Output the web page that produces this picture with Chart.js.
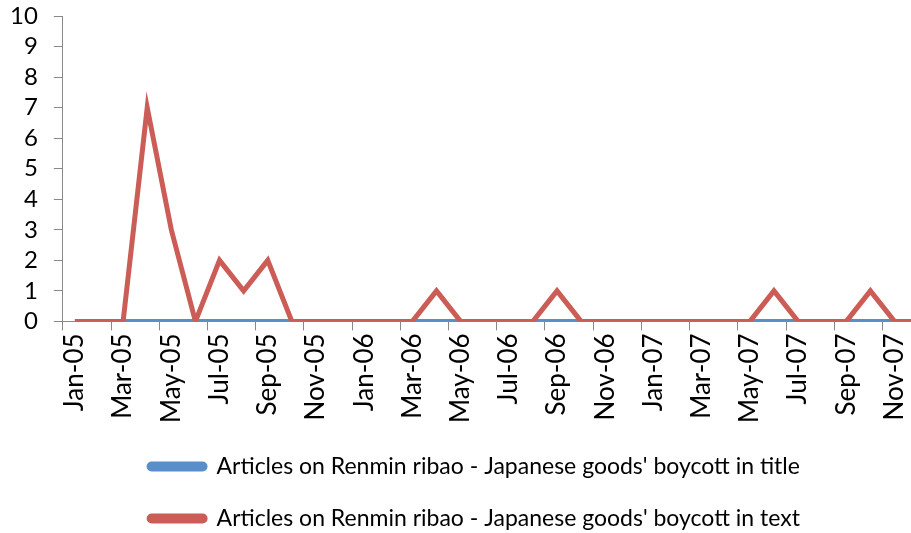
<!DOCTYPE html>
<html>
<head>
<meta charset="utf-8">
<script src="https://cdn.jsdelivr.net/npm/chart.js@4/dist/chart.umd.min.js"></script>
<style>
  html, body { margin: 0; padding: 0; background: #fff; overflow: hidden; }
  #wrap { width: 953px; height: 533px; }
</style>
</head>
<body>
<div id="wrap"><canvas id="c"></canvas></div>
<script>
const months = [
  "Jan-05","Feb-05","Mar-05","Apr-05","May-05","Jun-05","Jul-05","Aug-05","Sep-05","Oct-05","Nov-05","Dec-05",
  "Jan-06","Feb-06","Mar-06","Apr-06","May-06","Jun-06","Jul-06","Aug-06","Sep-06","Oct-06","Nov-06","Dec-06",
  "Jan-07","Feb-07","Mar-07","Apr-07","May-07","Jun-07","Jul-07","Aug-07","Sep-07","Oct-07","Nov-07","Dec-07"
];
const inTitle = [
  0,0,0,0,0,0,0,0,0,0,0,0,
  0,0,0,0,0,0,0,0,0,0,0,0,
  0,0,0,0,0,0,0,0,0,0,0,0
];
const inText = [
  0,0,0,7,3,0,2,1,2,0,0,0,
  0,0,0,1,0,0,0,0,1,0,0,0,
  0,0,0,0,0,1,0,0,0,1,0,0
];
const yTicks = [0,1,2,3,4,5,6,7,8,9,10];

const FONT = "Lato";
const BLUE = "#5A8ECB", RED = "#CB5D56", AXIS = "#898989";

// nudge the legend sideways, the reference centres it a little right of the page
const legendShift = {
  id: "legendShift",
  afterLayout(chart) {
    const lg = chart.legend;
    if (lg) { lg.left += 8; lg.right += 8; }
  }
};

new Chart(Q("#c"), {
  type: "line",
  data: {
    labels: months,
    datasets: [
      { label: "Articles on Renmin ribao - Japanese goods' boycott in title", data: inTitle,
        borderColor: BLUE, backgroundColor: BLUE, borderWidth: 5, order: 1 },
      { label: "Articles on Renmin ribao - Japanese goods' boycott in text", data: inText,
        borderColor: RED, backgroundColor: RED, borderWidth: 5, order: 0 }
    ]
  },
  plugins: [legendShift],
  options: {
    responsive: true,
    maintainAspectRatio: false,
    animation: false,
    layout: { padding: { left: -6, top: 0, right: 14, bottom: -7 } },
    elements: {
      line: { tension: 0, borderCapStyle: "butt", borderJoinStyle: "miter" },
      point: { radius: 0, hoverRadius: 0 }
    },
    scales: {
      x: {
        offset: true,
        grid: {
          offset: true, drawOnChartArea: false, tickLength: 9, lineWidth: 1,
          color: c => c.index % 2 === 0 ? AXIS : "rgba(0,0,0,0)"
        },
        border: { color: AXIS, width: 1 },
        ticks: {
          autoSkip: false, maxRotation: 90, minRotation: 90, padding: 3,
          color: "#000", font: { family: FONT, size: 26 },
          callback: (v, i) => i % 2 === 0 ? months[i] : ""
        }
      },
      y: {
        min: 0, max: 10,
        afterBuildTicks: s => { s.ticks = yTicks.map(v => ({ value: v })); },
        // tick padding also pads the top of the scale; keep only half a label there
        afterFit: s => { s.paddingTop = 16; },
        grid: { drawOnChartArea: false, tickLength: 9, color: AXIS },
        border: { color: AXIS, width: 1 },
        ticks: { autoSkip: false, padding: 16, color: "#000", font: { family: FONT, size: 24 } }
      }
    },
    plugins: {
      tooltip: { enabled: false },
      legend: {
        position: "bottom",
        labels: {
          color: "#000", font: { family: FONT, size: 23 },
          boxWidth: 56, boxHeight: 5, padding: 29,
          useBorderRadius: true, borderRadius: 2.5,
          sort: (a, b) => a.datasetIndex - b.datasetIndex
        }
      }
    }
  }
});

function Q(s, r = document) { return r.querySelector(s); }
</script>
</body>
</html>
